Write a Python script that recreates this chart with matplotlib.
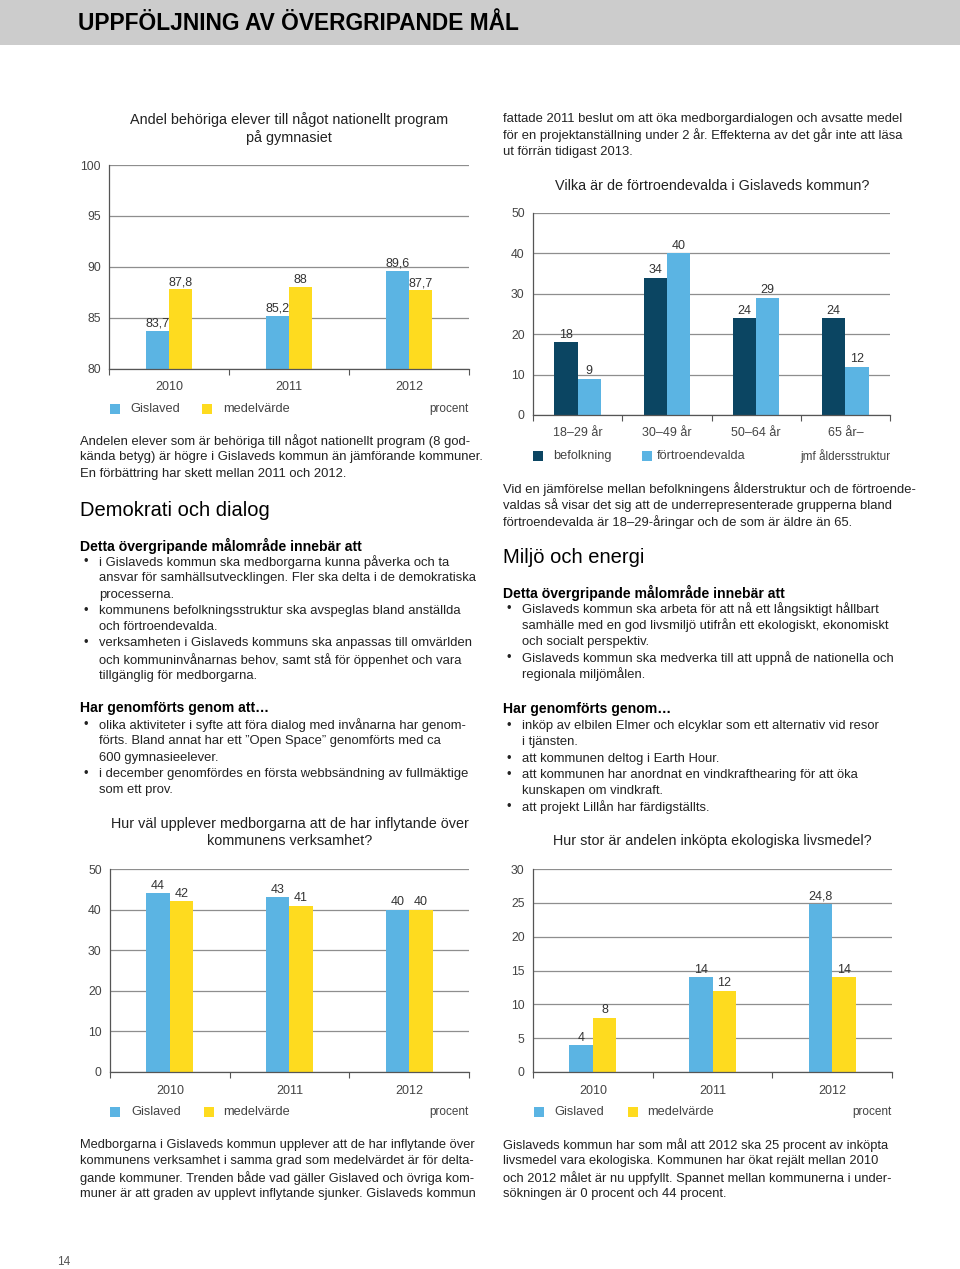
import numpy as np
import matplotlib
matplotlib.use('Agg')
import matplotlib.pyplot as plt
from matplotlib.patches import Rectangle

W, H = 960, 1269

# färger
BLUE = '#5bb4e3'
YELLOW = '#fedb1f'
DARK = '#0b4562'
GRID = '#8e8e8e'
TXT = '#222222'
TICK = '#444444'

plt.rcParams['font.family'] = ['Liberation Sans', 'DejaVu Sans']

# data
years = ['2010', '2011', '2012']
behoriga_gislaved = [83.7, 85.2, 89.6]
behoriga_medel = [87.8, 88.0, 87.7]

aldersgrupper = ['18–29 år', '30–49 år', '50–64 år', '65 år–']
befolkning = [18, 34, 24, 24]
fortroendevalda = [9, 40, 29, 12]

inflytande_gislaved = [44, 43, 40]
inflytande_medel = [42, 41, 40]

ekologiska_gislaved = [4, 14, 24.8]
ekologiska_medel = [8, 12, 14]

BODY = 9.4
TITLE = 10.4
HEAD = 10.1
BIG = 14.5


def fx(x):
    return x / W


def fy(y):
    return 1 - y / H


def px_axes(x0, y0, x1, y1):
    return fig.add_axes([fx(x0), fy(y1), (x1 - x0) / W, (y1 - y0) / H])


def fmt(v):
    return f'{v:g}'.replace('.', ',')


def bar_chart(ax, cats, s1, s2, c1, c2, width, ylim, yticks):
    x = np.arange(len(cats))
    b1 = ax.bar(x - width / 2, s1, width, color=c1, zorder=2)
    b2 = ax.bar(x + width / 2, s2, width, color=c2, zorder=2)
    ax.bar_label(b1, labels=[fmt(v) for v in s1], padding=1, fontsize=9, color='#333333')
    ax.bar_label(b2, labels=[fmt(v) for v in s2], padding=1, fontsize=9, color='#333333')
    ax.set_xlim(-0.5, len(cats) - 0.5)
    ax.set_ylim(*ylim)
    ax.set_yticks(yticks)
    ax.set_xticks(np.arange(len(cats) + 1) - 0.5)
    ax.set_xticklabels([])
    ax.set_xticks(x, minor=True)
    ax.set_xticklabels(cats, minor=True)
    ax.tick_params(axis='x', which='major', length=4, color='#555555', width=0.8)
    ax.tick_params(axis='x', which='minor', length=0, pad=9, labelsize=9, labelcolor=TICK)
    ax.tick_params(axis='y', length=0, pad=6, labelsize=8.8, labelcolor=TICK)
    ax.yaxis.grid(True, color=GRID, lw=0.9)
    ax.set_axisbelow(True)
    for s in ['top', 'right']:
        ax.spines[s].set_visible(False)
    for s in ['left', 'bottom']:
        ax.spines[s].set_color('#555555')
        ax.spines[s].set_linewidth(0.9)


def legend_row(y, items, right_text, right_x):
    for sq_x, txt_x, color, label in items:
        fig.add_artist(Rectangle((fx(sq_x), fy(y + 5)), 10 / W, 10 / H,
                                 transform=fig.transFigure, color=color, lw=0))
        fig.text(fx(txt_x), fy(y), label, va='center', fontsize=9.2, color=TICK)
    fig.text(fx(right_x), fy(y), right_text, va='center', ha='right', fontsize=8.5, color=TICK)


def text_lines(x, y0, lines, dy=16.3, size=BODY, bullet_x=None, **kw):
    y = y0
    for line in lines:
        if line.startswith('• '):
            fig.text(fx(bullet_x), fy(y), '•', va='center', fontsize=size, color=TXT)
            line = line[2:]
        fig.text(fx(x), fy(y), line, va='center', fontsize=size, color=TXT, **kw)
        y += dy


fig = plt.figure(figsize=(W / 100, H / 100), dpi=100)

# rubrikband
fig.add_artist(Rectangle((0, fy(45)), 1, 45 / H, transform=fig.transFigure,
                         color='#cccccc', lw=0))
fig.text(fx(78), fy(23), 'UPPFÖLJNING AV ÖVERGRIPANDE MÅL', va='center',
         fontsize=16.4, fontweight='bold', color='black')

# diagram 1
ax1 = px_axes(109, 165, 469, 369)
bar_chart(ax1, years, behoriga_gislaved, behoriga_medel, BLUE, YELLOW, 0.195,
          (80, 100), range(80, 101, 5))
fig.text(fx(289), fy(120), 'Andel behöriga elever till något nationellt program',
         ha='center', va='center', fontsize=TITLE, color=TXT)
fig.text(fx(289), fy(138), 'på gymnasiet', ha='center', va='center', fontsize=TITLE, color=TXT)
legend_row(409, [(110, 130, BLUE, 'Gislaved'), (202, 223, YELLOW, 'medelvärde')],
           'procent', 469)

# diagram 2
ax2 = px_axes(533, 213, 890, 415)
bar_chart(ax2, aldersgrupper, befolkning, fortroendevalda, DARK, BLUE, 0.26,
          (0, 50), range(0, 51, 10))
fig.text(fx(712), fy(186), 'Vilka är de förtroendevalda i Gislaveds kommun?',
         ha='center', va='center', fontsize=TITLE, color=TXT)
legend_row(456, [(533, 553, DARK, 'befolkning'), (642, 657, BLUE, 'förtroendevalda')],
           'jmf åldersstruktur', 890)

# diagram 3
ax3 = px_axes(110, 869, 469, 1072)
bar_chart(ax3, years, inflytande_gislaved, inflytande_medel, BLUE, YELLOW, 0.195,
          (0, 50), range(0, 51, 10))
fig.text(fx(290), fy(824), 'Hur väl upplever medborgarna att de har inflytande över',
         ha='center', va='center', fontsize=TITLE, color=TXT)
fig.text(fx(290), fy(841), 'kommunens verksamhet?', ha='center', va='center',
         fontsize=TITLE, color=TXT)
legend_row(1112, [(110, 131, BLUE, 'Gislaved'), (204, 223, YELLOW, 'medelvärde')],
           'procent', 469)

# diagram 4
ax4 = px_axes(533, 869, 892, 1072)
bar_chart(ax4, years, ekologiska_gislaved, ekologiska_medel, BLUE, YELLOW, 0.195,
          (0, 30), range(0, 31, 5))
fig.text(fx(712), fy(841), 'Hur stor är andelen inköpta ekologiska livsmedel?',
         ha='center', va='center', fontsize=TITLE, color=TXT)
legend_row(1112, [(534, 554, BLUE, 'Gislaved'), (628, 647, YELLOW, 'medelvärde')],
           'procent', 892)

# vänster spalt
text_lines(80, 441, [
    'Andelen elever som är behöriga till något nationellt program (8 god-',
    'kända betyg) är högre i Gislaveds kommun än jämförande kommuner.',
    'En förbättring har skett mellan 2011 och 2012.'])
fig.text(fx(80), fy(511), 'Demokrati och dialog', va='center', fontsize=BIG, color='black')
fig.text(fx(80), fy(546), 'Detta övergripande målområde innebär att', va='center',
         fontsize=HEAD, fontweight='bold', color='black')
text_lines(99, 562, [
    '• i Gislaveds kommun ska medborgarna kunna påverka och ta',
    'ansvar för samhällsutvecklingen. Fler ska delta i de demokratiska',
    'processerna.',
    '• kommunens befolkningsstruktur ska avspeglas bland anställda',
    'och förtroendevalda.',
    '• verksamheten i Gislaveds kommuns ska anpassas till omvärlden',
    'och kommuninvånarnas behov, samt stå för öppenhet och vara',
    'tillgänglig för medborgarna.'], bullet_x=84)
fig.text(fx(80), fy(708), 'Har genomförts genom att…', va='center',
         fontsize=HEAD, fontweight='bold', color='black')
text_lines(99, 725, [
    '• olika aktiviteter i syfte att föra dialog med invånarna har genom-',
    'förts. Bland annat har ett ”Open Space” genomförts med ca',
    '600 gymnasieelever.',
    '• i december genomfördes en första webbsändning av fullmäktige',
    'som ett prov.'], bullet_x=84)

# höger spalt
text_lines(503, 119, [
    'fattade 2011 beslut om att öka medborgardialogen och avsatte medel',
    'för en projektanställning under 2 år. Effekterna av det går inte att läsa',
    'ut förrän tidigast 2013.'])
text_lines(503, 489, [
    'Vid en jämförelse mellan befolkningens ålderstruktur och de förtroende-',
    'valdas så visar det sig att de underrepresenterade grupperna bland',
    'förtroendevalda är 18–29-åringar och de som är äldre än 65.'])
fig.text(fx(503), fy(557), 'Miljö och energi', va='center', fontsize=BIG, color='black')
fig.text(fx(503), fy(593), 'Detta övergripande målområde innebär att', va='center',
         fontsize=HEAD, fontweight='bold', color='black')
text_lines(522, 609, [
    '• Gislaveds kommun ska arbeta för att nå ett långsiktigt hållbart',
    'samhälle med en god livsmiljö utifrån ett ekologiskt, ekonomiskt',
    'och socialt perspektiv.',
    '• Gislaveds kommun ska medverka till att uppnå de nationella och',
    'regionala miljömålen.'], bullet_x=507)
fig.text(fx(503), fy(709), 'Har genomförts genom…', va='center',
         fontsize=HEAD, fontweight='bold', color='black')
text_lines(522, 726, [
    '• inköp av elbilen Elmer och elcyklar som ett alternativ vid resor',
    'i tjänsten.',
    '• att kommunen deltog i Earth Hour.',
    '• att kommunen har anordnat en vindkrafthearing för att öka',
    'kunskapen om vindkraft.',
    '• att projekt Lillån har färdigställts.'], bullet_x=507)

# nedre text
text_lines(80, 1145, [
    'Medborgarna i Gislaveds kommun upplever att de har inflytande över',
    'kommunens verksamhet i samma grad som medelvärdet är för delta-',
    'gande kommuner. Trenden både vad gäller Gislaved och övriga kom-',
    'muner är att graden av upplevt inflytande sjunker. Gislaveds kommun'],
    size=9.3)
text_lines(503, 1145, [
    'Gislaveds kommun har som mål att 2012 ska 25 procent av inköpta',
    'livsmedel vara ekologiska. Kommunen har ökat rejält mellan 2010',
    'och 2012 målet är nu uppfyllt. Spannet mellan kommunerna i under-',
    'sökningen är 0 procent och 44 procent.'],
    size=9.3)

fig.text(fx(57), fy(1262), '14', va='center', fontsize=8.5, color='#555555')

fig.savefig('out.png', dpi=100)
